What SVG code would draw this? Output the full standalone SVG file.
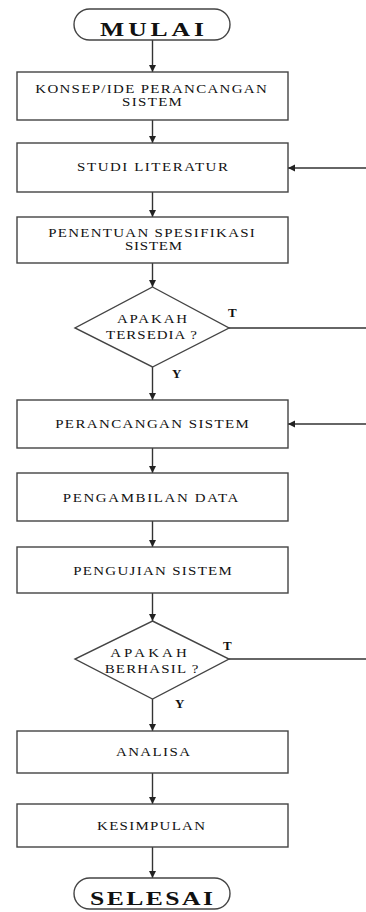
<svg xmlns="http://www.w3.org/2000/svg" width="366" height="912" viewBox="0 0 366 912">
<style>
.box{fill:#fff;stroke:#444;stroke-width:1.4}
.t{font-family:"Liberation Serif","Times New Roman",serif;font-size:11.5px;fill:#111;text-anchor:middle}
.term{font-family:"Liberation Serif","Times New Roman",serif;font-size:19px;font-weight:bold;fill:#111;text-anchor:middle}
.lbl{font-family:"Liberation Serif","Times New Roman",serif;font-size:13px;font-weight:bold;fill:#111}
.ln{stroke:#333;stroke-width:1.4;fill:none}
</style>
<defs>
<marker id="ah" markerWidth="8" markerHeight="8" refX="7" refY="4" orient="auto" markerUnits="userSpaceOnUse">
<path d="M0,0.5 L7,4 L0,7.5 Z" fill="#222"/>
</marker>
</defs>
<rect width="366" height="912" fill="#fff"/>
<g id="connectors">
<line class="ln" x1="152.5" y1="40" x2="152.5" y2="72" marker-end="url(#ah)"/>
<line class="ln" x1="152.5" y1="120" x2="152.5" y2="143" marker-end="url(#ah)"/>
<line class="ln" x1="152.5" y1="192" x2="152.5" y2="217" marker-end="url(#ah)"/>
<line class="ln" x1="152.5" y1="263" x2="152.5" y2="287" marker-end="url(#ah)"/>
<line class="ln" x1="152.5" y1="367" x2="152.5" y2="400" marker-end="url(#ah)"/>
<line class="ln" x1="152.5" y1="448" x2="152.5" y2="473" marker-end="url(#ah)"/>
<line class="ln" x1="152.5" y1="521" x2="152.5" y2="547" marker-end="url(#ah)"/>
<line class="ln" x1="152.5" y1="593" x2="152.5" y2="621" marker-end="url(#ah)"/>
<line class="ln" x1="152.5" y1="699" x2="152.5" y2="731" marker-end="url(#ah)"/>
<line class="ln" x1="152.5" y1="773" x2="152.5" y2="804" marker-end="url(#ah)"/>
<line class="ln" x1="152.5" y1="847" x2="152.5" y2="878" marker-end="url(#ah)"/>
<line class="ln" x1="366" y1="168" x2="288" y2="168" marker-end="url(#ah)"/>
<line class="ln" x1="366" y1="424" x2="288" y2="424" marker-end="url(#ah)"/>
<line class="ln" x1="229" y1="328" x2="366" y2="328"/>
<line class="ln" x1="229" y1="659" x2="366" y2="659"/>
<text class="lbl" x="228" y="317">T</text>
<text class="lbl" x="172" y="378">Y</text>
<text class="lbl" x="223" y="650">T</text>
<text class="lbl" x="175" y="708">Y</text>
</g>
<g id="mulai">
<rect class="box" x="74" y="9" width="156" height="31" rx="15.5"/>
<text class="term" transform="translate(152,36) scale(1.35,1)" textLength="77" lengthAdjust="spacing">MULAI</text>
</g>
<g id="konsep">
<rect class="box" x="17" y="72" width="271" height="48"/>
<text class="t" transform="translate(151,93) scale(1.3,1)" textLength="178" lengthAdjust="spacing">KONSEP/IDE PERANCANGAN</text>
<text class="t" transform="translate(152,106) scale(1.3,1)" textLength="46" lengthAdjust="spacing">SISTEM</text>
</g>
<g id="studi">
<rect class="box" x="17" y="143" width="271" height="49"/>
<text class="t" transform="translate(152.5,171) scale(1.3,1)" textLength="116" lengthAdjust="spacing">STUDI LITERATUR</text>
</g>
<g id="penentuan">
<rect class="box" x="17" y="217" width="271" height="46"/>
<text class="t" transform="translate(151.5,237) scale(1.3,1)" textLength="159" lengthAdjust="spacing">PENENTUAN SPESIFIKASI</text>
<text class="t" transform="translate(153.5,250) scale(1.3,1)" textLength="44" lengthAdjust="spacing">SISTEM</text>
</g>
<g id="tersedia">
<polygon class="box" points="152.5,287 229,328 152.5,367 75,328"/>
<text class="t" transform="translate(152,323) scale(1.3,1)" textLength="54" lengthAdjust="spacing">APAKAH</text>
<text class="t" transform="translate(151.5,339) scale(1.3,1)" textLength="70" lengthAdjust="spacing">TERSEDIA ?</text>
</g>
<g id="perancangan">
<rect class="box" x="17" y="400" width="271" height="48"/>
<text class="t" transform="translate(152,428) scale(1.3,1)" textLength="149" lengthAdjust="spacing">PERANCANGAN SISTEM</text>
</g>
<g id="pengambilan">
<rect class="box" x="17" y="473" width="271" height="48"/>
<text class="t" transform="translate(150.5,502) scale(1.3,1)" textLength="135" lengthAdjust="spacing">PENGAMBILAN DATA</text>
</g>
<g id="pengujian">
<rect class="box" x="17" y="547" width="271" height="46"/>
<text class="t" transform="translate(152.5,575) scale(1.3,1)" textLength="122" lengthAdjust="spacing">PENGUJIAN SISTEM</text>
</g>
<g id="berhasil">
<polygon class="box" points="152.5,621 229,659 152.5,699 75,659"/>
<text class="t" transform="translate(148.5,657) scale(1.3,1)" textLength="59" lengthAdjust="spacing">APAKAH</text>
<text class="t" transform="translate(151.5,673) scale(1.3,1)" textLength="72" lengthAdjust="spacing">BERHASIL ?</text>
</g>
<g id="analisa">
<rect class="box" x="17" y="731" width="271" height="42"/>
<text class="t" transform="translate(153,756) scale(1.3,1)" textLength="57" lengthAdjust="spacing">ANALISA</text>
</g>
<g id="kesimpulan">
<rect class="box" x="17" y="804" width="271" height="43"/>
<text class="t" transform="translate(151,830) scale(1.3,1)" textLength="83" lengthAdjust="spacing">KESIMPULAN</text>
</g>
<g id="selesai">
<rect class="box" x="74" y="878" width="156" height="31" rx="15.5"/>
<text class="term" transform="translate(151.5,905) scale(1.35,1)" textLength="91" lengthAdjust="spacing">SELESAI</text>
</g>
</svg>
